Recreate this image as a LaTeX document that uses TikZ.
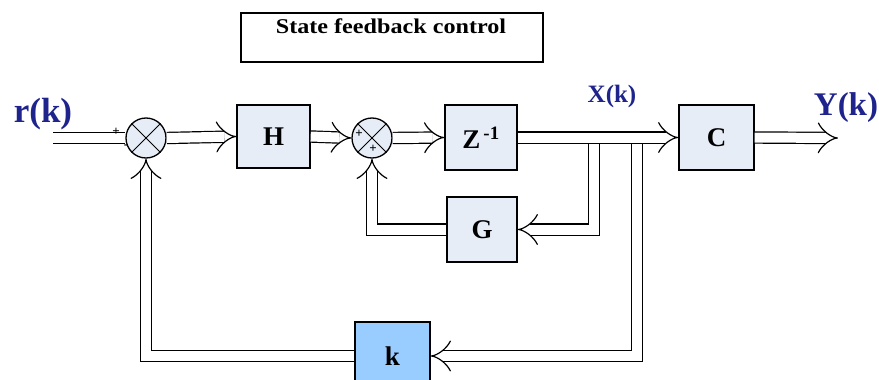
\documentclass[tikz,border=0pt]{standalone}
\usepackage{fontspec}
\setmainfont{Liberation Serif}
\usepackage{xcolor}
\usetikzlibrary{arrows.meta}
\definecolor{blockfill}{RGB}{230,237,247}
\definecolor{gainfill}{RGB}{153,204,255}
\definecolor{sigblue}{RGB}{30,36,140}

\begin{document}
\begin{tikzpicture}[x=1pt,y=-1pt,
  block/.style={draw,line width=1.3pt,fill=blockfill,font=\bfseries\fontsize{27}{27}\selectfont,inner sep=0pt},
  summer/.style={draw,line width=1.3pt,circle,fill=blockfill,minimum size=40pt,inner sep=0pt},
  bus/.style={double,line width=1.2pt,double distance=10pt},
  sig/.style={text=sigblue},
  sign/.style={font=\bfseries\fontsize{13}{13}\selectfont,inner sep=0pt}]
  \clip (0,0) rectangle (879,380);
  \useasboundingbox (0,0) rectangle (879,380);
  % title
  \node[draw,line width=1.3pt,minimum width=302pt,minimum height=49pt,inner sep=0pt] (title) at (392,37.5) {};
  \node[font=\bfseries\fontsize{21}{21}\selectfont,anchor=north,inner sep=0pt] (titletext) at (391,19) {\addfontfeature{FakeStretch=1.15}State feedback control};
  % blocks
  \node[block,minimum width=73pt,minimum height=63pt] (H) at (273.5,136.5) {H};
  \node[block,minimum width=72pt,minimum height=65pt] (Z) at (481,137.5) {Z\textsuperscript{\,-1}};
  \node[block,minimum width=75pt,minimum height=65pt] (C) at (716.5,137.5) {C};
  \node[block,minimum width=70pt,minimum height=65pt] (G) at (482,229.5) {G};
  \node[block,fill=gainfill,minimum width=75pt,minimum height=68pt] (K) at (392.5,356) {k};
  \node[summer] (s1) at (146,138) {};
  \node[summer] (s2) at (372,138) {};
  \draw[line width=0.8pt] (s1.north west) -- (s1.south east) (s1.north east) -- (s1.south west);
  \draw[line width=0.8pt] (s2.north west) -- (s2.south east) (s2.north east) -- (s2.south west);
  % signal labels
  \node[sig,font=\bfseries\fontsize{35}{35}\selectfont] (rk) at (43,114) {r(k)};
  \node[sig,font=\bfseries\fontsize{25}{25}\selectfont] (xk) at (612,96) {X(k)};
  \node[sig,font=\bfseries\fontsize{33}{33}\selectfont] (yk) at (846,108) {Y(k)};
  \coordinate (in) at (53,138);
  \coordinate (out) at (838,138);
  \coordinate (toG) at (594,144);
  \coordinate (toK) at (637,144);
  % feedback paths
  \draw[bus,-{Implies}] (toG) |- (G.east);
  \draw[bus,-{Implies}] (G.west) -| (s2.south);
  \draw[bus,-{Implies}] (toK) |- (K.east);
  \draw[bus,-{Implies}] (K.west) -| (s1.south);
  % forward path
  \draw[bus] (in) -- (s1.west);
  \draw[bus,-{Implies}] (s1.east) -- (H.west);
  \draw[bus,-{Implies}] (H.east) -- (s2.west);
  \draw[bus,-{Implies}] (s2.east) -- (Z.west);
  \draw[bus,-{Implies}] (Z.east) -- (C.west);
  \draw[bus,-{Implies}] (C.east) -- (out);
  % signs
  \node[sign] (s1p) at (116,132) {+};
  \node[sign] (s1m) at (126,147) {-};
  \node[sign] (s2p) at (359,134) {+};
  \node[sign] (s2q) at (373,149) {+};
\end{tikzpicture}
\end{document}
